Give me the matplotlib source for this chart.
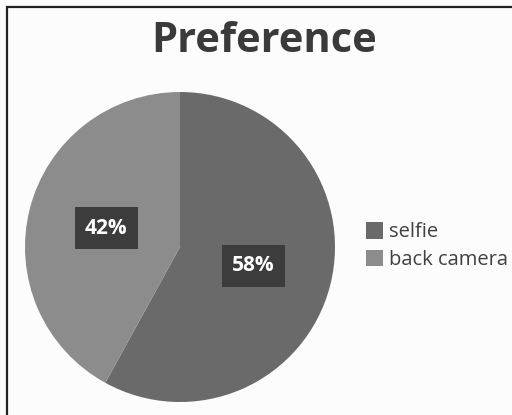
import matplotlib
matplotlib.use("Agg")
import matplotlib.pyplot as plt
from matplotlib.patches import Rectangle

categories = ["selfie", "back camera"]
values = [58, 42]
colors = ["#6a6a6a", "#8c8c8c"]
title = "Preference"

W, H = 512, 415
fig = plt.figure(figsize=(W / 100, H / 100), dpi=100)
fig.patch.set_facecolor("#fcfcfc")

# border (left & top visible, right/bottom cut off)
fig.add_artist(Rectangle((7 / W, -0.1), 1.2, 1.1 - 7 / H, transform=fig.transFigure,
                         fill=False, edgecolor="#222222", linewidth=1.6))

cx, cy, r = 180, 247, 155
ax = fig.add_axes([(cx - r) / W, (H - cy - r) / H, 2 * r / W, 2 * r / H])
ax.set_aspect("equal")
wedges, texts, autotexts = ax.pie(values, colors=colors, startangle=90, counterclock=False,
                                  autopct="%1.0f%%", pctdistance=0.49, radius=1,
                                  wedgeprops=dict(linewidth=0))
for t in autotexts:
    t.set_color("white")
    t.set_fontsize(15)
    t.set_fontweight("bold")
    t.set_family("Open Sans")
    t.set_bbox(dict(boxstyle="square,pad=0.5", facecolor="#3c3c3c", edgecolor="none"))
ax.set_xlim(-1, 1)
ax.set_ylim(-1, 1)

fig.text(264 / W, 1 - 41 / H, title, ha="center", va="center", fontsize=30,
         fontweight="bold", color="#3a3a3a", family="Open Sans")

leg = fig.legend(wedges, categories, loc="center left", bbox_to_anchor=(356 / W, 1 - 246 / H),
                 frameon=False, prop=dict(family="Open Sans", size=14.5), handlelength=0.85,
                 handleheight=0.85, handletextpad=0.3, labelspacing=0.35, borderpad=0)
for t in leg.get_texts():
    t.set_color("#404040")

fig.savefig("out.png", dpi=100, facecolor=fig.get_facecolor())
